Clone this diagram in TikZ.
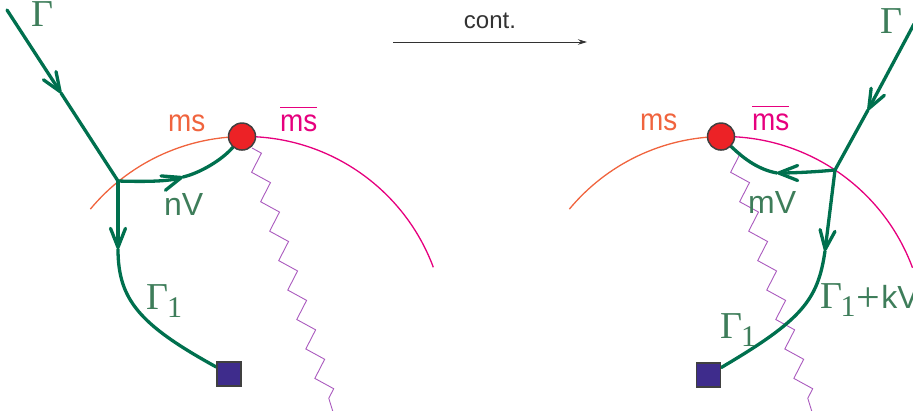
\documentclass[tikz,border=0pt]{standalone}
\usepackage{fontspec}
\setmainfont{Liberation Serif}
\setsansfont{Liberation Sans}
\usepackage{graphicx}
\usetikzlibrary{arrows.meta,decorations.pathmorphing,calc}
\definecolor{gpath}{RGB}{0,112,78}
\definecolor{glab}{RGB}{62,125,90}
\definecolor{msorange}{RGB}{240,100,62}
\definecolor{msmag}{RGB}{230,0,126}
\definecolor{redball}{RGB}{236,34,38}
\definecolor{sqfill}{RGB}{62,44,140}
\definecolor{zzcol}{RGB}{170,90,190}
\definecolor{edgegray}{RGB}{64,64,64}
\definecolor{contgray}{RGB}{50,50,50}
\newcommand\serifbig{\fontsize{38}{40}\selectfont}
\newcommand\sansmid{\sffamily\fontsize{32}{34}\selectfont}
\newcommand\sansms{\sffamily\fontsize{31}{33}\selectfont}
\newcommand\subone{\raisebox{-8pt}{\fontsize{30}{30}\selectfont 1}}
\newcommand\bigplus{\raisebox{-3pt}{\fontsize{42}{42}\selectfont +}}
\pgfdeclarelayer{bg}
\pgfsetlayers{bg,main}
\tikzset{
  gbarb/.tip={Straight Barb[length=19pt,width=15pt,round]},
  gline/.style={draw=gpath,line width=3.3pt,line cap=round,line join=round},
  msarc/.style={draw=msorange,line width=1.3pt},
  msbararc/.style={draw=msmag,line width=1.3pt},
  zz/.style={draw=zzcol,line width=0.9pt,decorate,
    decoration={zigzag,segment length=30.8pt,amplitude=7.5pt}},
  ball/.style={circle,fill=redball,draw=edgegray,line width=1.5pt,minimum size=27pt,inner sep=0pt},
  sqbox/.style={rectangle,fill=sqfill,draw=edgegray,line width=1.5pt,minimum size=24pt,inner sep=0pt},
  glabel/.style={text=glab,inner sep=0pt,anchor=base west},
  mslabel/.style={text=msorange,inner sep=0pt,anchor=base west,font=\sansms},
  msbarlabel/.style={text=msmag,inner sep=0pt,anchor=base west,font=\sansms},
  contarrow/.style={draw=contgray,line width=0.9pt,-{Stealth[length=9pt,width=5.5pt]}}
}
\begin{document}
\begin{tikzpicture}[x=1pt,y=-1pt]
\useasboundingbox (0,0) rectangle (913,410);
% ---------- left panel ----------
\coordinate (C1) at (245,337.5);
\node[ball] (RB1) at ($(C1)+(-90.85:201)$) {};
\node[sqbox] (SQ1) at (229,374) {};
\coordinate (G1s) at (7,10);
\coordinate (A1) at (61,93);
\coordinate (J1) at (118,181);
\coordinate (A2) at (183,177);
\coordinate (A3) at (118,249);
\coordinate (Z1s) at (252,148);
\coordinate (Z1e) at (333,412);
% ---------- right panel ----------
\coordinate (C2) at (724,337.5);
\node[ball] (RB2) at ($(C2)+(-90.85:201)$) {};
\node[sqbox] (SQ2) at (708.5,375) {};
\coordinate (G2s) at (914,24);
\coordinate (A4) at (868,110);
\coordinate (J2) at (835,170);
\coordinate (A5) at (777,173);
\coordinate (A6) at (825,251);
\coordinate (Z2s) at (731,148);
\coordinate (Z2e) at (812,412);
\begin{pgfonlayer}{bg}
  % arcs
  \draw[msarc] ($(C1)+(-140.3:201)$) arc[start angle=-140.3,end angle=-90.85,radius=201];
  \draw[msbararc] ($(C1)+(-90.85:201)$) arc[start angle=-90.85,end angle=-20.45,radius=201];
  \draw[msarc] ($(C2)+(-140.3:201)$) arc[start angle=-140.3,end angle=-90.85,radius=201];
  \draw[msbararc] ($(C2)+(-90.85:201)$) arc[start angle=-90.85,end angle=-20.3,radius=201];
  % zigzags
  \draw[zz] (Z1s) -- (Z1e);
  \draw[zz] (Z2s) -- (Z2e);
  % left green lines
  \draw[gline,-gbarb] (G1s) -- (A1);
  \draw[gline] (A1) -- (J1);
  \draw[gline,-gbarb] (J1) .. controls (150,182) and (170,181) .. (A2);
  \draw[gline] (A2) .. controls (200,173) and (222,160) .. (RB1);
  \draw[gline,-gbarb] (J1) -- (A3);
  \draw[gline] (A3) .. controls (118,300) and (140,325) .. (SQ1);
  % right green lines
  \draw[gline,-gbarb] (G2s) -- (A4);
  \draw[gline] (A4) -- (J2);
  \draw[gline,-gbarb] (J2) .. controls (815,172) and (792,173) .. (A5);
  \draw[gline] (A5) .. controls (760,170) and (745,160) .. (RB2);
  \draw[gline,-gbarb] (J2) -- (A6);
  \draw[gline] (A6) .. controls (818,300) and (802,320) .. (SQ2);
\end{pgfonlayer}
% top arrow
\node[font=\sffamily\fontsize{24}{26}\selectfont,text=contgray,anchor=base,inner sep=0pt] (CT) at (490,28) {cont.};
\coordinate (CA1) at (393,42);
\coordinate (CA2) at (587,42);
\draw[contarrow] (CA1) -- (CA2);
% labels left
\node[glabel,font=\serifbig] (LG1) at (31,26) {Γ};
\node[mslabel] (LMS1) at (168,131) {\scalebox{0.9}[1]{ms}};
\node[msbarlabel] (LMB1) at (280,131) {\scalebox{0.9}[1]{\vbox{\hrule height 1.3pt\kern6pt\hbox{ms}}}};
\node[glabel,font=\sansmid] (LNV) at (164,215) {nV};
\node[glabel,font=\serifbig] (LGS1) at (146,309) {Γ\kern-1pt\subone};
% labels right
\node[glabel,font=\serifbig] (LG2) at (880,33) {Γ};
\node[mslabel] (LMS2) at (640,130) {\scalebox{0.9}[1]{ms}};
\node[msbarlabel] (LMB2) at (752,130) {\scalebox{0.9}[1]{\vbox{\hrule height 1.3pt\kern6pt\hbox{ms}}}};
\node[glabel,font=\sansmid] (LMV) at (748,213) {mV};
\node[glabel,font=\serifbig] (LGS2) at (720,338) {Γ\kern-1pt\subone};
\node[glabel,font=\serifbig] (LGK) at (820,308) {Γ\kern-1.5pt\subone\kern1pt\bigplus\kern1pt{\sansmid kV}};
\end{tikzpicture}
\end{document}
